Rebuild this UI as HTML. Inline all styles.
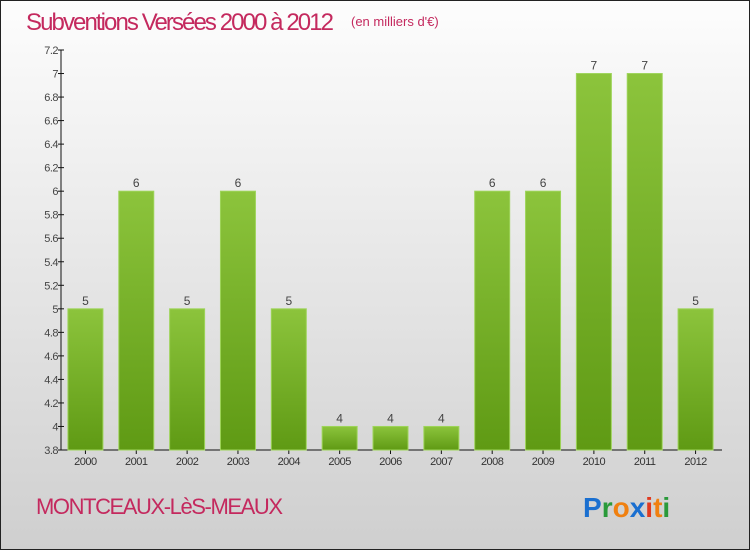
<!DOCTYPE html>
<html><head><meta charset="utf-8"><style>
body{margin:0;width:750px;height:550px;overflow:hidden;font-family:"Liberation Sans",sans-serif}
#wrap{position:absolute;left:0;top:0;width:748px;height:548px;border:1px solid #222;background:linear-gradient(#fdfdfd,#cfcfcf)}
</style></head><body>
<div id="wrap">
<svg id="chart" width="750" height="550" style="position:absolute;left:-1px;top:-1px">
<defs><linearGradient id="g" x1="0" y1="0" x2="0" y2="1"><stop offset="0" stop-color="#8cc43c"/><stop offset="1" stop-color="#5f9a14"/></linearGradient></defs>
<text x="26" y="30" font-size="24" fill="#c4295e" style="font-weight:300" textLength="308">Subventions Versées 2000 à 2012</text>
<text x="351" y="26" font-size="13" fill="#c4295e">(en milliers d'€)</text>
<text x="36" y="514" font-size="22" fill="#c4295e" textLength="247">MONTCEAUX-LèS-MEAUX</text>
<g font-size="28" font-weight="bold" font-family="'Liberation Sans',sans-serif">
<text x="583" y="517"><tspan fill="#1a6fd0">P</tspan><tspan fill="#2a9a3a">r</tspan><tspan fill="#f08010">o</tspan><tspan fill="#1a6fd0">x</tspan><tspan fill="#e03a20">i</tspan><tspan fill="#f08010">t</tspan><tspan fill="#2a9a3a">i</tspan></text></g>
<g id="axes"></g><g id="bars"></g>
</svg></div>
<script>
const years=["2000","2001","2002","2003","2004","2005","2006","2007","2008","2009","2010","2011","2012"];
const values=[5,6,5,6,5,4,4,4,6,6,7,7,5];
const labels=["5","6","5","6","5","4","4","4","6","6","7","7","5"];
const yTicks=["3.8","4","4.2","4.4","4.6","4.8","5","5.2","5.4","5.6","5.8","6","6.2","6.4","6.6","6.8","7","7.2"];
const NS="http://www.w3.org/2000/svg";
const x0=61,x1=722,yTop=50,yBot=450,vMin=3.8,vMax=7.2;
const y=v=>yBot-(v-vMin)/(vMax-vMin)*(yBot-yTop);
const slot=(x1-x0)/years.length;
const xc=i=>x0+slot*(i+0.5)-1;
function mk(t,a,p){const e=document.createElementNS(NS,t);for(const k in a)e.setAttribute(k,a[k]);p.appendChild(e);return e;}
const ax=document.getElementById('axes'),bg=document.getElementById('bars');
const yl=mk('line',{x1:x0,y1:yTop,x2:x0,y2:yBot,stroke:'#111'},ax);


const xl=mk('line',{x1:x0,y1:yBot,x2:x1,y2:yBot,stroke:'#111'},ax);


yTicks.forEach(s=>{const v=parseFloat(s),yy=y(v);
mk('line',{x1:x0-3,y1:yy,x2:x0+3,y2:yy,stroke:'#111'},ax);
const t=mk('text',{x:x0-3,y:yy+4,'text-anchor':'end','font-size':11,fill:'#444','letter-spacing':'-0.5'},ax);t.textContent=s;

});
years.forEach((yr,i)=>{const c=xc(i),w=35,top=y(values[i]);
mk('line',{x1:c,y1:yBot,x2:c,y2:yBot+4,stroke:'#111'},ax);
const t=mk('text',{x:c,y:yBot+15,'text-anchor':'middle','font-size':11,fill:'#333','letter-spacing':'-0.5'},ax);t.textContent=yr;


const r=mk('rect',{x:c-w/2,y:top,width:w,height:yBot-top,fill:'url(#g)',stroke:'#9ed45a','stroke-width':1},bg);


const l=mk('text',{x:c,y:top-4,'text-anchor':'middle','font-size':12,fill:'#444'},bg);l.textContent=labels[i];

});
</script>
</body></html>
